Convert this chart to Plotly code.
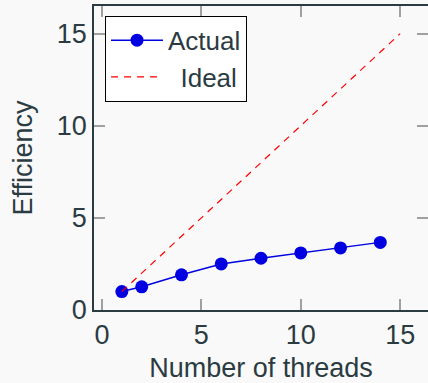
import plotly.graph_objects as go

threads = [1, 2, 4, 6, 8, 10, 12, 14]
actual = [1.0, 1.26, 1.91, 2.5, 2.81, 3.1, 3.37, 3.67]
ideal_x = [1, 15]
ideal_y = [1, 15]
series_names = ["Actual", "\u00a0\u2009Ideal"]

TXT = "#2b3b42"
FONT = "Liberation Sans"
FS = 27

fig = go.Figure()
fig.add_trace(go.Scatter(
    x=threads, y=actual, name=series_names[0], mode="lines+markers",
    line=dict(color="#0000e0", width=1.5),
    marker=dict(size=13, color="#0000e0"),
))
fig.add_trace(go.Scatter(
    x=ideal_x, y=ideal_y, name=series_names[1], mode="lines",
    line=dict(color="#ff0000", width=1.2, dash="7px,6px"),
))

axis_common = dict(
    showgrid=False, zeroline=False, automargin=False,
    showline=True, linecolor=TXT, linewidth=1.5, mirror="ticks",
    ticks="inside", ticklen=11, tickwidth=1.5, tickcolor="#a0a0a0",
    tickfont=dict(family=FONT, size=FS, color=TXT),
    title_font=dict(family=FONT, size=FS, color=TXT),
)

fig.update_layout(
    width=428, height=383,
    margin=dict(l=94, r=0, t=6, b=73),
    paper_bgcolor="#f9f9f9", plot_bgcolor="#f9f9f9",
    font=dict(family=FONT, size=FS, color=TXT),
    xaxis=dict(range=[-0.4, 16.4], tickvals=[0, 5, 10, 15],
               title=dict(text="Number of threads", standoff=12), **axis_common),
    yaxis=dict(range=[0, 16.5], tickvals=[0, 5, 10, 15],
               title=dict(text="Efficiency", standoff=16), **axis_common),
    legend=dict(x=0.033, y=0.968, xanchor="left", yanchor="top",
                bgcolor="white", bordercolor="black", borderwidth=1,
                font=dict(family=FONT, size=26, color=TXT),
                itemwidth=52, entrywidth=150, tracegroupgap=0),
    showlegend=True,
)

fig.write_html("out.html", config={"displayModeBar": False},
               post_script="document.body.style.margin='0';document.body.style.background='#f9f9f9';")
